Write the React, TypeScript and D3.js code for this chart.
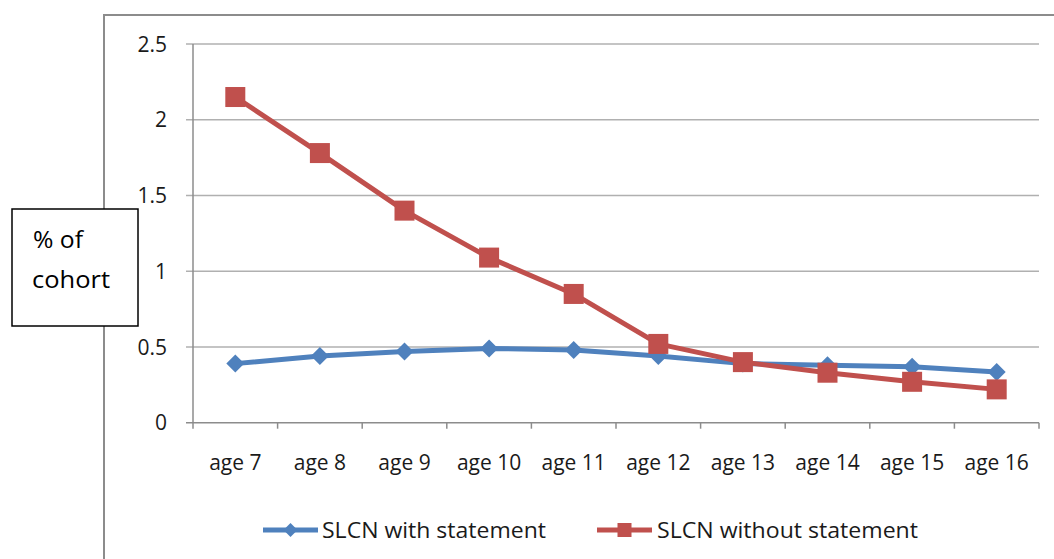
import React, { useEffect, useRef } from 'react';
import * as d3 from 'd3';

const categories = ['age 7', 'age 8', 'age 9', 'age 10', 'age 11', 'age 12', 'age 13', 'age 14', 'age 15', 'age 16'];
const withStatement = [0.39, 0.44, 0.47, 0.49, 0.48, 0.44, 0.39, 0.38, 0.37, 0.335];
const withoutStatement = [2.15, 1.78, 1.4, 1.09, 0.85, 0.52, 0.4, 0.33, 0.27, 0.22];
const yTicks = [0, 0.5, 1, 1.5, 2, 2.5];
const seriesNames = ['SLCN with statement', 'SLCN without statement'];

const BLUE = '#4F81BD';
const RED = '#C0504D';
const FONT = "'Open Sans', 'Liberation Sans', sans-serif";

const App: React.FC = () => {
  const svgRef = useRef<SVGSVGElement>(null);
  const width = 1054;
  const height = 559;

  useEffect(() => {
    if (!svgRef.current) return;
    const svg = d3.select(svgRef.current);
    svg.selectAll('*').remove();

    // plot area bounds
    const left = 193;
    const right = 1039;
    const top = 44;
    const bottom = 422.7;

    const xScale = d3.scaleBand<string>().domain(categories).range([left, right]);
    const yScale = d3.scaleLinear().domain([0, 2.5]).range([bottom, top]);

    // outer chart border (runs off the right and bottom of the picture)
    svg.append('rect')
      .attr('x', 104)
      .attr('y', 15)
      .attr('width', 1000)
      .attr('height', 600)
      .attr('fill', 'white')
      .attr('stroke', '#8C8C8C')
      .attr('stroke-width', 2);

    // grid lines + y ticks
    const grid = svg.append('g');
    yTicks.forEach((t) => {
      grid.append('line')
        .attr('x1', left - 7)
        .attr('x2', right)
        .attr('y1', yScale(t))
        .attr('y2', yScale(t))
        .attr('stroke', t === 0 ? '#8C8C8C' : '#B0B0B0')
        .attr('stroke-width', 1.5);
      grid.append('text')
        .attr('x', 167)
        .attr('y', yScale(t))
        .attr('dy', '0.36em')
        .attr('text-anchor', 'end')
        .attr('font-family', FONT)
        .attr('font-size', 21)
        .attr('fill', '#1a1a1a')
        .text(String(t));
    });

    // y axis line
    svg.append('line')
      .attr('x1', left)
      .attr('x2', left)
      .attr('y1', top)
      .attr('y2', bottom)
      .attr('stroke', '#8C8C8C')
      .attr('stroke-width', 1.5);

    // x axis ticks at category boundaries
    const boundaries = categories.map((c) => xScale(c) as number).concat([right]);
    boundaries.forEach((bx) => {
      svg.append('line')
        .attr('x1', bx)
        .attr('x2', bx)
        .attr('y1', bottom)
        .attr('y2', bottom + 6)
        .attr('stroke', '#8C8C8C')
        .attr('stroke-width', 1.5);
    });

    // x labels
    categories.forEach((c) => {
      svg.append('text')
        .attr('x', (xScale(c) as number) + xScale.bandwidth() / 2)
        .attr('y', 470)
        .attr('text-anchor', 'middle')
        .attr('font-family', FONT)
        .attr('font-size', 21)
        .attr('fill', '#1a1a1a')
        .text(c);
    });

    const cx = (i: number) => (xScale(categories[i]) as number) + xScale.bandwidth() / 2;

    const line = d3.line<number>()
      .x((d, i) => cx(i))
      .y((d) => yScale(d));

    const diamond = (x: number, y: number, r: number) =>
      `M${x},${y - r}L${x + r},${y}L${x},${y + r}L${x - r},${y}Z`;

    // blue series
    svg.append('path')
      .datum(withStatement)
      .attr('fill', 'none')
      .attr('stroke', BLUE)
      .attr('stroke-width', 5)
      .attr('stroke-linejoin', 'round')
      .attr('d', line);
    svg.selectAll('.blue-pt')
      .data(withStatement)
      .enter()
      .append('path')
      .attr('d', (d, i) => diamond(cx(i), yScale(d), 9))
      .attr('fill', BLUE);

    // red series
    svg.append('path')
      .datum(withoutStatement)
      .attr('fill', 'none')
      .attr('stroke', RED)
      .attr('stroke-width', 5)
      .attr('stroke-linejoin', 'round')
      .attr('d', line);
    svg.selectAll('.red-pt')
      .data(withoutStatement)
      .enter()
      .append('rect')
      .attr('x', (d, i) => cx(i) - 10)
      .attr('y', (d) => yScale(d) - 10)
      .attr('width', 20)
      .attr('height', 20)
      .attr('fill', RED);

    // legend
    const legendY = 530;
    const lg = svg.append('g');
    lg.append('line')
      .attr('x1', 263).attr('x2', 318)
      .attr('y1', legendY).attr('y2', legendY)
      .attr('stroke', BLUE).attr('stroke-width', 5);
    lg.append('path').attr('d', diamond(290.5, legendY, 7)).attr('fill', BLUE);
    lg.append('text')
      .attr('x', 322).attr('y', legendY).attr('dy', '0.36em')
      .attr('font-family', FONT).attr('font-size', 21).attr('fill', '#1a1a1a')
      .attr('textLength', 224).attr('lengthAdjust', 'spacingAndGlyphs')
      .text(seriesNames[0]);
    lg.append('line')
      .attr('x1', 597).attr('x2', 652)
      .attr('y1', legendY).attr('y2', legendY)
      .attr('stroke', RED).attr('stroke-width', 5);
    lg.append('rect')
      .attr('x', 617.5).attr('y', legendY - 7)
      .attr('width', 14).attr('height', 14)
      .attr('fill', RED);
    lg.append('text')
      .attr('x', 657).attr('y', legendY).attr('dy', '0.36em')
      .attr('font-family', FONT).attr('font-size', 21).attr('fill', '#1a1a1a')
      .attr('textLength', 261).attr('lengthAdjust', 'spacingAndGlyphs')
      .text(seriesNames[1]);

    // y axis title box
    svg.append('rect')
      .attr('x', 12)
      .attr('y', 209)
      .attr('width', 126)
      .attr('height', 117)
      .attr('fill', 'white')
      .attr('stroke', 'black')
      .attr('stroke-width', 1.5);
    svg.append('text')
      .attr('x', 33).attr('y', 248)
      .attr('font-family', FONT).attr('font-size', 24).attr('fill', '#000')
      .attr('textLength', 50).attr('lengthAdjust', 'spacingAndGlyphs')
      .text('% of');
    svg.append('text')
      .attr('x', 32).attr('y', 288)
      .attr('font-family', FONT).attr('font-size', 24).attr('fill', '#000')
      .attr('textLength', 78).attr('lengthAdjust', 'spacingAndGlyphs')
      .text('cohort');
  }, []);

  return (
    <svg
      ref={svgRef}
      width={width}
      height={height}
      style={{ position: 'absolute', left: 0, top: 0, background: 'white' }}
    />
  );
};

export default App;
